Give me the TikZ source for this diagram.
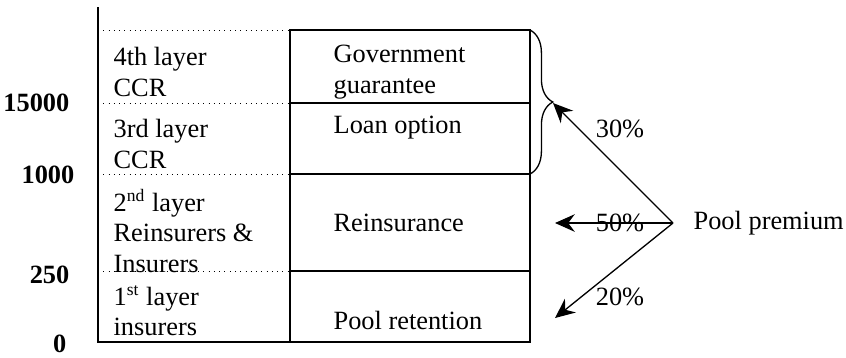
\documentclass[tikz,border=0pt]{standalone}
\usepackage{fontspec}
\setmainfont{Liberation Serif}
\usetikzlibrary{arrows.meta,decorations.pathreplacing}

\begin{document}
\begin{tikzpicture}[x=0.016cm,y=-0.016cm,line width=0.6pt,
  every node/.style={inner sep=0pt,font=\fontsize{12}{13.8}\selectfont},
  lbl/.style={anchor=west,align=left},
  level/.style={anchor=east,font=\fontsize{12}{13.8}\selectfont\bfseries},
  share/.style={-{Stealth[length=9pt,width=8pt,inset=3pt]}}]

  \useasboundingbox (0,0) rectangle (846,357);

  % axis and layer limits
  \draw (98,7) -- (98,342) -- (530,342);
  \foreach \y in {30,103,174,271}
    \draw[line width=0.4pt,dotted] (98,\y) -- (290,\y);
  \draw (290,30) rectangle (530,342);
  \foreach \y in {103,174,271}
    \draw (290,\y) -- (530,\y);

  \node[level] (l15000) at (70,103) {15000};
  \node[level] (l1000) at (75,175) {1000};
  \node[level] (l250) at (70,275) {250};
  \node[level] (l0) at (67,344) {0};

  \node[lbl] (layer4) at (113,72) {4th layer\\CCR};
  \node[lbl] (layer3) at (113,144) {3rd layer\\CCR};
  \node[lbl] (layer2) at (113,231) {2\textsuperscript{nd} layer\\Reinsurers \&\\Insurers};
  \node[lbl] (layer1) at (113,311) {1\textsuperscript{st} layer\\insurers};

  \node[lbl] (gov) at (333,72) {Government\\guarantee};
  \node[lbl] (loan) at (333,128) {Loan option};
  \node[lbl] (reins) at (333,223) {Reinsurance};
  \node[lbl] (ret) at (333,320) {Pool retention};

  % brace over the CCR layers
  \draw[decorate,decoration={brace,amplitude=10.4pt}] (530,30) -- (530,174);
  \coordinate (tip) at (553,103);
  \coordinate (reinsend) at (555,223);
  \coordinate (retend) at (555,318);

  \coordinate (src) at (673,223);
  \node[lbl] (pool) at (693,223) {Pool premium};
  \draw[share] (src) -- (tip);
  \draw[share] (src) -- (reinsend);
  \draw[share] (src) -- (retend);
  \node (p30) at (620,129) {30\%};
  \node (p50) at (620,223) {50\%};
  \node (p20) at (620,297) {20\%};

\end{tikzpicture}
\end{document}
